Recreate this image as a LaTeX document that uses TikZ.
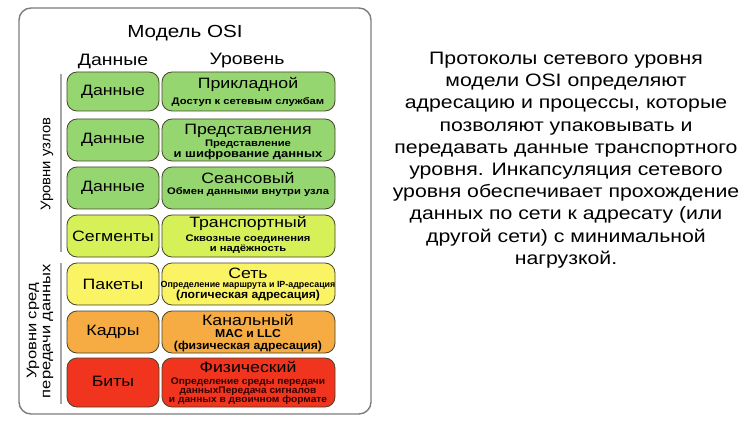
\documentclass[tikz,border=0pt]{standalone}
\usepackage{fontspec}
\setmainfont{Liberation Sans}
\newfontfamily\wide[FakeStretch=1.18]{Liberation Sans}
\newfontfamily\semiwide[FakeStretch=1.06]{Liberation Sans}
\begin{document}
\begin{tikzpicture}[x=1pt,y=-1pt,
  fs/.style={font=\wide\fontsize{#1}{#1}\selectfont},
  cell/.style={draw=black!65!olive, line width=0.8pt, rounded corners=10pt, inner sep=0pt},
  lname/.style={fs=15, inner sep=0pt},
  small/.style={font=\wide\fontsize{9.5}{10.5}\selectfont\bfseries, inner sep=0pt, align=center},
  dlabel/.style={fs=15, inner sep=0pt},
  head/.style={fs=16.5, inner sep=0pt},
  side/.style={font=\semiwide\fontsize{14}{15}\selectfont, inner sep=0pt, rotate=90, align=center}]
\definecolor{cgreen}{RGB}{150,214,112}
\definecolor{clime}{RGB}{214,240,88}
\definecolor{cyellow}{RGB}{250,244,100}
\definecolor{corange}{RGB}{246,172,66}
\definecolor{cred}{RGB}{240,52,30}
\definecolor{frame}{RGB}{125,125,125}
\useasboundingbox (0,0) rectangle (751,438);
\fill[white] (0,0) rectangle (751,438);

% outer frame
\draw[frame, line width=1.4pt, rounded corners=12pt] (19,8) rectangle (371,414);

% titles
\node[fs=17.5, inner sep=0pt] (title) at (185,33) {Модель OSI};
\node[head] (hdata) at (113,61) {Данные};
\node[head] (hlevel) at (247,61) {Уровень};

% grouping lines and side labels
\draw[black!35, line width=1.2pt] (61,74) coordinate (g1a) -- (61,252) coordinate (g1b);
\draw[black!35, line width=1.2pt] (61,263) coordinate (g2a) -- (61,404) coordinate (g2b);
\node[side] (hosts) at (47,164) {Уровни узлов};
\node[side, font=\wide\fontsize{14}{15}\selectfont] (media) at (40,331) {Уровни сред\\[-1pt]передачи данных};

% rows: data unit on the left, layer on the right
% row 1
\draw[cell, fill=cgreen] (67,72) rectangle (159,111);
\draw[cell, fill=cgreen] (162,72) rectangle (335,111);
\node[dlabel] (d1) at (113,91.5) {Данные};
\node[lname] (l1) at (248,84) {Прикладной};
\node[small] (s1) at (248,102) {Доступ к сетевым службам};
% row 2
\draw[cell, fill=cgreen] (67,119) rectangle (159,161);
\draw[cell, fill=cgreen] (162,119) rectangle (335,161);
\node[dlabel] (d2) at (113,140) {Данные};
\node[lname] (l2) at (248,131) {Представления};
\node[small] (s2a) at (248,144) {Представление};
\node[small, font=\wide\fontsize{11}{12}\selectfont\bfseries] (s2b) at (248,155) {и шифрование данных};
% row 3
\draw[cell, fill=cgreen] (67,167) rectangle (159,209);
\draw[cell, fill=cgreen] (162,167) rectangle (335,209);
\node[dlabel] (d3) at (113,188) {Данные};
\node[lname] (l3) at (248,178) {Сеансовый};
\node[small] (s3) at (248,192) {Обмен данными внутри узла};
% row 4
\draw[cell, fill=clime] (67,215) rectangle (159,257);
\draw[cell, fill=clime] (162,215) rectangle (335,257);
\node[dlabel] (d4) at (113,236) {Сегменты};
\node[lname] (l4) at (248,223) {Транспортный};
\node[small] (s4) at (248,244) {Сквозные соединения\\и надёжность};
% row 5
\draw[cell, fill=cyellow] (67,263) rectangle (159,305);
\draw[cell, fill=cyellow] (162,263) rectangle (335,305);
\node[dlabel] (d5) at (113,284) {Пакеты};
\node[lname] (l5) at (248,273) {Сеть};
\node[small, font=\fontsize{8.9}{10}\selectfont\bfseries] (s5a) at (248,285.5) {Определение маршрута и IP-адресация};
\node[small, font=\semiwide\fontsize{11.5}{12}\selectfont\bfseries] (s5b) at (248,296) {(логическая адресация)};
% row 6
\draw[cell, fill=corange] (67,311) rectangle (159,353);
\draw[cell, fill=corange] (162,311) rectangle (335,353);
\node[dlabel] (d6) at (113,332) {Кадры};
\node[lname] (l6) at (248,320) {Канальный};
\node[small, font=\semiwide\fontsize{11.5}{12}\selectfont\bfseries] (s6) at (248,341) {MAC и LLC\\(физическая адресация)};
% row 7
\draw[cell, fill=cred] (67,358) rectangle (159,407);
\draw[cell, fill=cred] (162,358) rectangle (335,407);
\node[dlabel] (d7) at (113,381) {Биты};
\node[lname] (l7) at (248,367) {Физический};
\node[small, font=\semiwide\fontsize{9.6}{9.3}\selectfont\bfseries, text=black!80!red] (s7) at (248,391) {Определение среды передачи\\данныхПередача сигналов\\и данных в двоичном формате};

% description
\node[align=center, inner sep=0pt, font=\wide\fontsize{18}{22.2}\selectfont] (desc) at (566,160)
  {Протоколы сетевого уровня\\модели OSI определяют\\адресацию и процессы, которые\\позволяют упаковывать и\\передавать данные транспортного\\уровня. Инкапсуляция сетевого\\уровня обеспечивает прохождение\\данных по сети к адресату (или\\другой сети) с минимальной\\нагрузкой.};
\end{tikzpicture}
\end{document}
